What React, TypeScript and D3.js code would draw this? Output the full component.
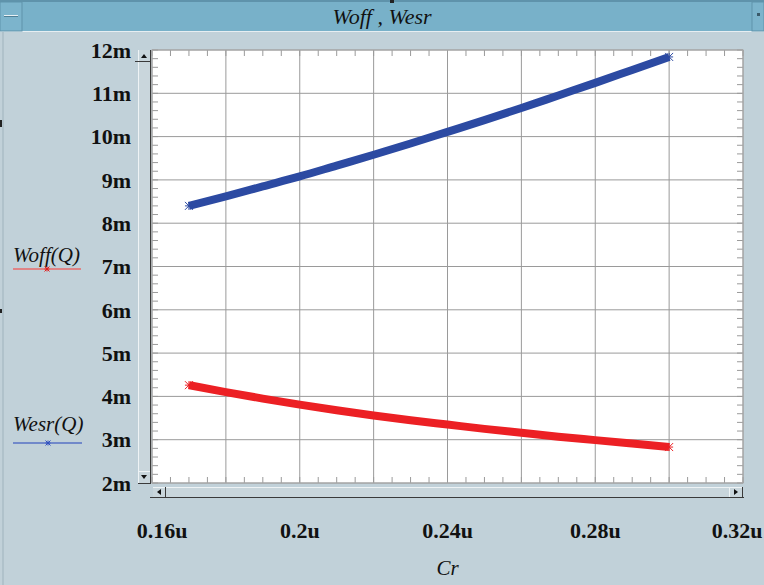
import React from 'react';
import * as d3 from 'd3';

// Data (Cr in micro-farads, W in milli-units)
const crValues = [0.17, 0.18, 0.19, 0.2, 0.21, 0.22, 0.23, 0.24, 0.25, 0.26, 0.27, 0.28, 0.29, 0.3];
const wesrValues = [8.4, 8.62, 8.85, 9.08, 9.33, 9.58, 9.84, 10.11, 10.38, 10.66, 10.95, 11.24, 11.54, 11.84];
const woffValues = [4.26, 4.1, 3.95, 3.81, 3.68, 3.56, 3.45, 3.35, 3.25, 3.16, 3.07, 2.99, 2.91, 2.83];
const xTickValues = [0.16, 0.2, 0.24, 0.28, 0.32];
const xTickLabels = ['0.16u', '0.2u', '0.24u', '0.28u', '0.32u'];
const yTickValues = [2, 3, 4, 5, 6, 7, 8, 9, 10, 11, 12];
const yTickLabels = ['2m', '3m', '4m', '5m', '6m', '7m', '8m', '9m', '10m', '11m', '12m'];
const seriesNames = ['Woff(Q)', 'Wesr(Q)'];
const titleText = 'Woff , Wesr';
const xAxisTitle = 'Cr';

const W = 764;
const H = 585;
const plot = { left: 152, right: 743, top: 50, bottom: 483 };
const BG = '#c1d1d9';
const TITLE_BG = '#78b1c9';
const BLUE = '#2c4aa2';
const RED = '#ec2024';
const GRID = '#9a9a9a';
const SERIF = "'Liberation Serif', 'Times New Roman', Times, Tinos, 'Noto Serif', 'DejaVu Serif', serif";

function Asterisk({ x, y, color, r = 3 }: { x: number; y: number; color: string; r?: number }) {
  return (
    <g stroke={color} strokeWidth={1}>
      <line x1={x - r} y1={y} x2={x + r} y2={y} />
      <line x1={x} y1={y - r} x2={x} y2={y + r} />
      <line x1={x - r} y1={y - r} x2={x + r} y2={y + r} />
      <line x1={x - r} y1={y + r} x2={x + r} y2={y - r} />
    </g>
  );
}

export default function App() {
  const x = d3.scaleLinear().domain([0.16, 0.32]).range([plot.left, plot.right]);
  const y = d3.scaleLinear().domain([2, 12]).range([plot.bottom, plot.top]);

  const majorX = x.ticks(8);
  const minorX = x.ticks(32);
  const majorY = y.ticks(10);
  const minorY = y.ticks(40);

  const line = d3
    .line<[number, number]>()
    .x((d) => x(d[0]))
    .y((d) => y(d[1]))
    .curve(d3.curveMonotoneX);

  const wesrPath = line(crValues.map((c, i) => [c, wesrValues[i]]) as [number, number][]) || '';
  const woffPath = line(crValues.map((c, i) => [c, woffValues[i]]) as [number, number][]) || '';

  const vsb = { x0: 138, x1: 150 };
  const hsb = { y0: 487, y1: 497 };

  const tickFont: React.CSSProperties = { fontFamily: SERIF, fontWeight: 700, fontSize: '22px' };
  const italicFont: React.CSSProperties = { fontFamily: SERIF, fontStyle: 'italic', fontSize: '21px' };

  return (
    <svg
      width={W}
      height={H}
      style={{ position: 'fixed', left: 0, top: 0, display: 'block' }}
      xmlns="http://www.w3.org/2000/svg"
    >
      <rect x={0} y={0} width={W} height={H} fill={BG} />
      <line x1={3} y1={32} x2={3} y2={H} stroke="#9fb3bd" strokeWidth={1} />
      <rect x={0} y={120} width={2} height={7} fill="#222" />
      <rect x={0} y={309} width={2} height={4} fill="#222" />

      {/* title bar */}
      <rect x={0} y={0} width={W} height={2} fill="#5f93ab" />
      <rect x={0} y={2} width={W} height={29} fill={TITLE_BG} />
      <line x1={0} y1={31.5} x2={W} y2={31.5} stroke="#e6eef2" strokeWidth={1} />
      <rect x={0} y={2} width={22} height={29} fill="#7cb4cc" stroke="#5f93ab" strokeWidth={1} />
      <line x1={4} y1={15.5} x2={18} y2={15.5} stroke="#e8f0f4" strokeWidth={1} />
      <line x1={4} y1={16.5} x2={18} y2={16.5} stroke="#4f7f95" strokeWidth={1} />
      <rect x={752} y={2} width={12} height={29} fill="#7cb4cc" stroke="#5f93ab" strokeWidth={1} />
      <rect x={757} y={13} width={3} height={3} fill="#3a5a6a" />
      <rect x={390} y={0} width={4} height={3} fill="#222" />
      <text x={W / 2} y={24} textAnchor="middle" style={{ ...italicFont, fontSize: '22px' }} fill="#111">
        {titleText}
      </text>

      {/* plot area */}
      <rect x={plot.left} y={plot.top} width={plot.right - plot.left} height={plot.bottom - plot.top} fill="#ffffff" />
      {majorX.map((v, i) => (
        <line key={'gx' + i} x1={x(v)} x2={x(v)} y1={plot.top} y2={plot.bottom} stroke={GRID} strokeWidth={1} />
      ))}
      {majorY.map((v, i) => (
        <line key={'gy' + i} x1={plot.left} x2={plot.right} y1={y(v)} y2={y(v)} stroke={GRID} strokeWidth={1} />
      ))}
      {minorX.map((v, i) => (
        <g key={'mx' + i} stroke={GRID} strokeWidth={1}>
          <line x1={x(v)} x2={x(v)} y1={plot.top} y2={plot.top + 6} />
          <line x1={x(v)} x2={x(v)} y1={plot.bottom} y2={plot.bottom - 6} />
        </g>
      ))}
      {minorY.map((v, i) => (
        <g key={'my' + i} stroke={GRID} strokeWidth={1}>
          <line x1={plot.left} x2={plot.left + 6} y1={y(v)} y2={y(v)} />
          <line x1={plot.right} x2={plot.right - 6} y1={y(v)} y2={y(v)} />
        </g>
      ))}
      <rect
        x={plot.left}
        y={plot.top}
        width={plot.right - plot.left}
        height={plot.bottom - plot.top}
        fill="none"
        stroke="#a8a8a8"
        strokeWidth={1}
      />

      {/* series */}
      <path d={wesrPath} fill="none" stroke={BLUE} strokeWidth={8} />
      <path d={woffPath} fill="none" stroke={RED} strokeWidth={8} />
      <Asterisk x={x(crValues[0])} y={y(wesrValues[0])} color={BLUE} r={4} />
      <Asterisk x={x(crValues[crValues.length - 1])} y={y(wesrValues[wesrValues.length - 1])} color={BLUE} r={4} />
      <Asterisk x={x(crValues[0])} y={y(woffValues[0])} color={RED} r={4} />
      <Asterisk x={x(crValues[crValues.length - 1])} y={y(woffValues[woffValues.length - 1])} color={RED} r={4} />

      {/* vertical scrollbar */}
      <rect x={vsb.x0} y={plot.top} width={vsb.x1 - vsb.x0} height={plot.bottom - plot.top} fill="#c9d6dc" />
      <line x1={vsb.x0 + 0.5} y1={plot.top} x2={vsb.x0 + 0.5} y2={plot.bottom} stroke="#eef3f5" />
      <line x1={vsb.x1 + 0.5} y1={plot.top} x2={vsb.x1 + 0.5} y2={plot.bottom + 1} stroke="#3a3a3a" />
      <line x1={vsb.x0 - 3} y1={61.5} x2={vsb.x1} y2={61.5} stroke="#3a3a3a" />
      <path d={`M${vsb.x0 + 3},${58} L${vsb.x0 + 9},${58} L${vsb.x0 + 6},${54} Z`} fill="#111" />
      <line x1={vsb.x0} y1={471.5} x2={vsb.x1} y2={471.5} stroke="#eef3f5" />
      <line x1={vsb.x0} y1={483.5} x2={vsb.x1 + 1} y2={483.5} stroke="#3a3a3a" />
      <path d={`M${vsb.x0 + 3},${475} L${vsb.x0 + 9},${475} L${vsb.x0 + 6},${479} Z`} fill="#111" />

      {/* horizontal scrollbar */}
      <rect x={plot.left + 1} y={hsb.y0} width={plot.right - plot.left - 1} height={hsb.y1 - hsb.y0} fill="#c9d6dc" />
      <line x1={plot.left + 1} y1={hsb.y0 + 0.5} x2={plot.right} y2={hsb.y0 + 0.5} stroke="#eef3f5" />
      <line x1={plot.left - 2} y1={hsb.y1 + 0.5} x2={plot.right + 1} y2={hsb.y1 + 0.5} stroke="#3a3a3a" />
      <line x1={165.5} y1={hsb.y0} x2={165.5} y2={hsb.y1} stroke="#3a3a3a" />
      <path d={`M${161},${hsb.y0 + 2} L${161},${hsb.y1 - 2} L${157},${(hsb.y0 + hsb.y1) / 2} Z`} fill="#111" />
      <line x1={729.5} y1={hsb.y0} x2={729.5} y2={hsb.y1} stroke="#eef3f5" />
      <line x1={742.5} y1={hsb.y0} x2={742.5} y2={hsb.y1 + 1} stroke="#3a3a3a" />
      <path d={`M${734},${hsb.y0 + 2} L${734},${hsb.y1 - 2} L${738},${(hsb.y0 + hsb.y1) / 2} Z`} fill="#111" />

      {/* y tick labels */}
      {yTickValues.map((v, i) => (
        <text key={'yl' + i} x={131} y={y(v)} dy="0.35em" textAnchor="end" style={tickFont} fill="#111">
          {yTickLabels[i]}
        </text>
      ))}
      {/* x tick labels */}
      {xTickValues.map((v, i) => {
        const cx = Math.min(Math.max(x(v), 162), 737);
        return (
          <text key={'xl' + i} x={cx} y={538} textAnchor="middle" style={tickFont} fill="#111">
            {xTickLabels[i]}
          </text>
        );
      })}
      <text x={x(0.24)} y={575} textAnchor="middle" style={italicFont} fill="#111">
        {xAxisTitle}
      </text>

      {/* legend */}
      <text x={13} y={262} style={italicFont} fill="#111">
        {seriesNames[0]}
      </text>
      <line x1={13} y1={269} x2={81} y2={269} stroke="#e86a6a" strokeWidth={1.5} />
      <Asterisk x={47} y={269} color="#e02020" r={2.5} />
      <text x={13} y={431} style={italicFont} fill="#111">
        {seriesNames[1]}
      </text>
      <line x1={13} y1={443} x2={82} y2={443} stroke="#5670c4" strokeWidth={1.5} />
      <Asterisk x={48} y={443} color="#3050c0" r={2.5} />
    </svg>
  );
}
